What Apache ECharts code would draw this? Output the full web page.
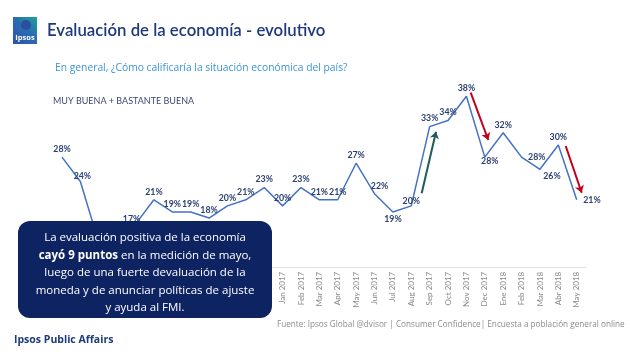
<!DOCTYPE html>
<html>
<head>
<meta charset="utf-8">
<script src="https://cdn.jsdelivr.net/npm/echarts@6/dist/echarts.min.js"></script>
<style>
    html, body { margin: 0; padding: 0; background: #fff; }
    #chart { width: 630px; height: 353px; }
</style>
</head>
<body>
<div id="chart"></div>
<script>
    'use strict';

    // meses de la medición
    var months = [
        'Jan 2016', 'Feb 2016', 'Mar 2016', 'Apr 2016', 'May 2016', 'Jun 2016',
        'Jul 2016', 'Aug 2016', 'Sep 2016', 'Oct 2016', 'Nov 2016', 'Dec 2016',
        'Jan 2017', 'Feb 2017', 'Mar 2017', 'Apr 2017', 'May 2017', 'Jun 2017',
        'Jul 2017', 'Aug 2017', 'Sep 2017', 'Oct 2017', 'Nov 2017', 'Dec 2017',
        'Ene 2018', 'Feb 2018', 'Mar 2018', 'Abr 2018', 'May 2018'
    ];
    // muy buena + bastante buena (%)
    var buena = [
        28, 24, 14, 15, 17, 21, 19, 19, 18, 20, 21, 23,
        20, 23, 21, 21, 27, 22, 19, 20, 33, 34, 38, 28,
        32, 28, 26, 30, 21
    ];

    var navy = '#2b3f73';
    var font = 'Lato';

    // etiquetas que no van arriba del punto (el padding corre el texto)
    var labelTweaks = {
        1: { distance: 0, padding: [0, 0, 0, 4] },
        4: { distance: 0, padding: [0, 8, 0, 0] },
        17: { padding: [0, 0, 0, 10] },
        18: { position: 'bottom', distance: 2 },
        19: { distance: 0 },
        23: { position: 'bottom', distance: -1, padding: [0, 0, 0, 10] },
        25: { position: 'right', distance: 6, padding: [0, 0, 8, 0] },
        26: { position: 'bottom', distance: 2, padding: [0, 0, 0, 24] },
        28: { position: 'right', distance: 6 }
    };

    var seriesData = buena.map(function (v, i) {
        var item = { value: v };
        if (labelTweaks[i]) {
            item.label = labelTweaks[i];
        }
        return item;
    });

    var myChart = echarts.init(document.getElementById('chart'), null, { renderer: 'canvas' });

    var boxText = [
        'La evaluación positiva de la economía',
        '{b|cayó 9 puntos} en la medición de mayo,',
        'luego de una fuerte devaluación de la',
        'moneda y de anunciar políticas de ajuste',
        'y ayuda al FMI.'
    ].join('\n');

    var option = {
        animation: false,
        backgroundColor: '#fff',
        grid: { left: 52.8, right: 44.1, top: 84, bottom: 86.2 },
        xAxis: {
            type: 'category',
            data: months,
            boundaryGap: true,
            axisLine: { lineStyle: { color: '#e2e2e2', width: 1 } },
            axisTick: { show: false },
            axisLabel: {
                rotate: 90,
                interval: 0,
                margin: 5,
                color: '#8a8a8a',
                fontSize: 8,
                fontFamily: font
            }
        },
        yAxis: {
            type: 'value',
            min: 10,
            max: 40,
            show: false,
            splitLine: { show: false }
        },
        series: [
            {
                type: 'line',
                data: seriesData,
                symbol: 'circle',
                symbolSize: 1,
                itemStyle: { color: 'rgba(0,0,0,0)' },
                lineStyle: { color: '#4472c4', width: 1.5 },
                z: 2,
                label: {
                    show: true,
                    position: 'top',
                    distance: 3,
                    formatter: '{c}%',
                    color: navy,
                    fontSize: 8.8,
                    fontWeight: 'bold',
                    fontFamily: font
                },
                labelLayout: { hideOverlap: false },
                markLine: {
                    silent: true,
                    symbol: ['none', 'arrow'],
                    symbolSize: 7,
                    label: { show: false },
                    lineStyle: { type: 'solid', width: 2 },
                    data: [
                        [{ x: 421.7, y: 193.3, lineStyle: { color: '#1f5d58' } }, { x: 436, y: 131.7 }],
                        [{ x: 470.7, y: 92.7, lineStyle: { color: '#c0001a' } }, { x: 488.3, y: 140 }],
                        [{ x: 565.7, y: 146, lineStyle: { color: '#c0001a' } }, { x: 581.7, y: 192.7 }]
                    ]
                }
            }
        ],
        graphic: [
            // logo
            {
                type: 'rect', z: 100,
                shape: { x: 13, y: 17, width: 24, height: 27 },
                style: {
                    fill: new echarts.graphic.LinearGradient(0, 1, 1, 0, [
                        { offset: 0, color: '#2b55aa' },
                        { offset: 0.55, color: '#2b6cb0' },
                        { offset: 1, color: '#19a49a' }
                    ])
                }
            },
            {
                type: 'circle', z: 101,
                shape: { cx: 26, cy: 25, r: 5 },
                style: { fill: '#2a4f9e' }
            },
            {
                type: 'text', z: 102,
                style: {
                    x: 25, y: 38, text: 'Ipsos', fill: '#fff',
                    font: 'bold 7.5px "Open Sans"', textAlign: 'center', textVerticalAlign: 'middle'
                }
            },
            {
                type: 'text', z: 100,
                style: {
                    x: 47, y: 31, text: 'Evaluación de la economía - evolutivo',
                    fill: '#1e3a7c', font: '600 16.8px Lato',
                    textVerticalAlign: 'middle'
                }
            },
            {
                type: 'text', z: 100,
                style: {
                    x: 55, y: 68, text: 'En general, ¿Cómo calificaría la situación económica del país?',
                    fill: '#3b95d6', font: '10.3px "Open Sans"', textVerticalAlign: 'middle'
                }
            },
            {
                type: 'text', z: 100,
                style: {
                    x: 53, y: 101, text: 'MUY BUENA + BASTANTE BUENA',
                    fill: '#3a4a6e', font: '9px Lato', textVerticalAlign: 'middle'
                }
            },
            // recuadro
            {
                type: 'rect', z: 100,
                shape: { x: 18, y: 221, width: 254, height: 97, r: 12 },
                style: { fill: '#0e2462' }
            },
            {
                type: 'text', z: 101,
                style: {
                    x: 145, y: 273,
                    text: boxText,
                    fill: '#fff',
                    font: '11.5px "Open Sans"',
                    align: 'center',
                    verticalAlign: 'middle',
                    lineHeight: 17.5,
                    rich: {
                        b: { fontWeight: 'bold', fontSize: 11.5, fontFamily: 'Open Sans', fill: '#fff', lineHeight: 17.5 }
                    }
                }
            },
            {
                type: 'text', z: 100,
                style: {
                    x: 14, y: 340, text: 'Ipsos Public Affairs',
                    fill: '#1e3a7c', font: 'bold 10.5px "Open Sans"', textVerticalAlign: 'middle'
                }
            },
            {
                type: 'text', z: 100,
                style: {
                    x: 277, y: 325,
                    text: 'Fuente: Ipsos Global @dvisor | Consumer Confidence| Encuesta a población general online',
                    fill: '#8c8c8c', font: '8.2px "Open Sans"', textVerticalAlign: 'middle'
                }
            }
        ]
    };

    myChart.setOption(option);
</script>
</body>
</html>
